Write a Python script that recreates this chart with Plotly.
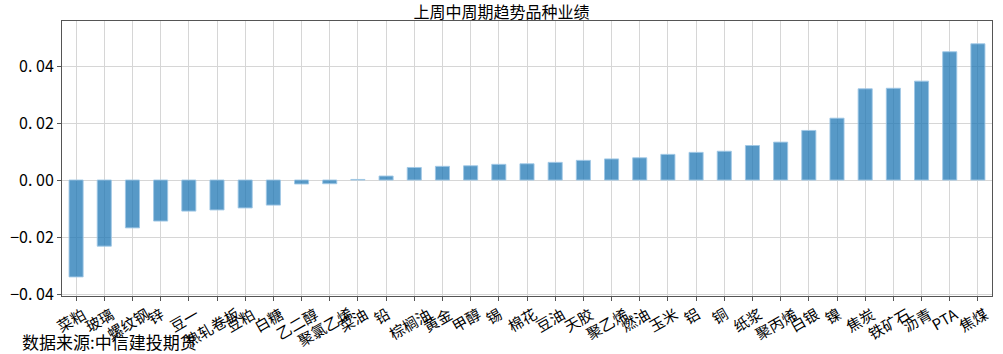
import plotly.graph_objects as go

categories = ["菜粕", "玻璃", "螺纹钢", "锌", "豆一", "热轧卷板", "豆粕", "白糖", "乙二醇", "聚氯乙烯",
              "菜油", "铅", "棕榈油", "黄金", "甲醇", "锡", "棉花", "豆油", "天胶", "聚乙烯",
              "燃油", "玉米", "铝", "铜", "纸浆", "聚丙烯", "白银", "镍", "焦炭", "铁矿石",
              "沥青", "PTA", "焦煤"]
values = [-0.0340, -0.0232, -0.0168, -0.0144, -0.0109, -0.0105, -0.0098, -0.0088, -0.0014, -0.0013,
          0.0002, 0.0014, 0.0044, 0.0048, 0.0050, 0.0055, 0.0057, 0.0062, 0.0069, 0.0074,
          0.0078, 0.0090, 0.0097, 0.0101, 0.0121, 0.0133, 0.0174, 0.0217, 0.0320, 0.0322,
          0.0347, 0.0450, 0.0478]
ytick_vals = [-0.04, -0.02, 0.0, 0.02, 0.04]
ytick_text = ["−0. 04", "−0. 02", "0. 00", "0. 02", "0. 04"]
title = "上周中周期趋势品种业绩"
source = "数据来源:中信建投期货"

FONT = "Noto Sans CJK SC, Noto Sans, sans-serif"
x_idx = list(range(len(categories)))

fig = go.Figure(go.Bar(
    x=x_idx, y=values, width=0.5,
    marker=dict(color="rgba(31,119,180,0.75)", line=dict(color="rgba(160,200,230,0.9)", width=1)),
))

annotations = [
    dict(x=i, y=0, xref="x", yref="paper", text=c, showarrow=False, textangle=-30,
         xanchor="center", yanchor="top", yshift=-4, xshift=-5,
         font=dict(family=FONT, size=15, color="black"))
    for i, c in zip(x_idx, categories)
]
annotations.append(dict(x=0, y=0, xref="paper", yref="paper", text=source, showarrow=False,
                        xanchor="left", yanchor="bottom", xshift=-42, yshift=-60,
                        font=dict(family=FONT, size=17, color="black")))

fig.update_layout(
    width=1003, height=354,
    margin=dict(l=54, r=10, t=21, b=58),
    paper_bgcolor="white", plot_bgcolor="white",
    showlegend=False,
    title=dict(text=title, x=0.5, xanchor="center", y=0.965, yanchor="middle",
               font=dict(family=FONT, size=16, color="black")),
    font=dict(family=FONT, color="black"),
    annotations=annotations,
    xaxis=dict(range=[-0.5, 32.5], tickvals=x_idx, ticktext=[""] * len(x_idx),
               showgrid=True, gridcolor="#d6d6d6", gridwidth=1,
               showline=True, linecolor="#555555", linewidth=1, mirror=True,
               ticks="outside", ticklen=4, tickcolor="#555555", zeroline=False),
    yaxis=dict(range=[-0.0407, 0.0558], tickvals=ytick_vals, ticktext=ytick_text,
               showgrid=True, gridcolor="#d6d6d6", gridwidth=1,
               showline=True, linecolor="#555555", linewidth=1, mirror=True,
               ticks="outside", ticklen=4, tickcolor="#555555", zeroline=False,
               tickfont=dict(family=FONT, size=16, color="black")),
)

fig.write_html("out.html")
